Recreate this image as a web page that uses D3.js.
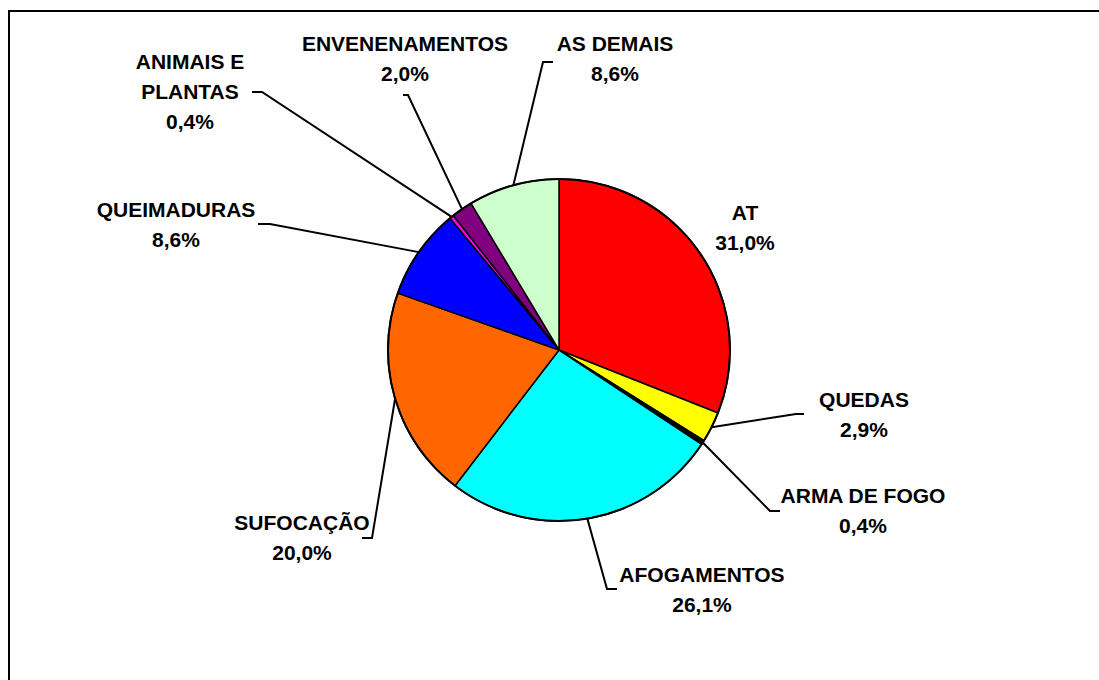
<!DOCTYPE html>
<html>
<head>
<meta charset="utf-8">
<style>
    body { margin: 0; background: #fff; }
    text { font-family: "Liberation Sans", Arial, sans-serif; font-weight: bold; font-size: 21px; fill: #000; }
</style>
</head>
<body>
    <div class="graph"></div>

    <script src="https://cdn.jsdelivr.net/npm/d3@7"></script>
    <script>
        // data, clockwise from 12 o'clock
        var categories = ['AT', 'QUEDAS', 'ARMA DE FOGO', 'AFOGAMENTOS', 'SUFOCAÇÃO',
            'QUEIMADURAS', 'ANIMAIS E|PLANTAS', 'ENVENENAMENTOS', 'AS DEMAIS']
        var values = [31.0, 2.9, 0.4, 26.1, 20.0, 8.6, 0.4, 2.0, 8.6]
        var colors = ['#ff0000', '#ffff00', '#000000', '#00ffff', '#ff6600',
            '#0000ff', '#ff00ff', '#800080', '#ccffcc']

        // label layout: centre x, baseline of first line, leader elbow and end (null = no leader)
        var labelPos = [
            [745, 220], [864, 407], [863, 503], [702, 582], [302, 530],
            [176, 217], [190, 69], [405, 51], [615, 51]
        ]
        var leaders = [
            null,
            [[796, 414], [804, 414]],
            [[770, 511], [780, 511]],
            [[607, 589], [617, 589]],
            [[372, 538], [362, 538]],
            [[270, 224], [258, 224]],
            [[262, 92], [252, 92]],
            [[408, 95], [403, 95]],
            [[543, 62], [553, 62]]
        ]

        var width = 1099,
            height = 680,
            cx = 559,
            cy = 350,
            radius = 171,
            lineH = 30

        var svg = d3.select('.graph').append('svg')
            .attr('width', width)
            .attr('height', height)

        // frame
        svg.append('rect')
            .attr('x', 9).attr('y', 11)
            .attr('width', 1100).attr('height', 700)
            .style('fill', 'none')
            .style('stroke', '#000')
            .style('stroke-width', 2)

        var pie = d3.pie().sort(null).value(function (d) { return d })
        var arcs = pie(values)

        var arc = d3.arc().innerRadius(0).outerRadius(radius)

        var g = svg.append('g')
            .attr('transform', 'translate(' + cx + ',' + cy + ')')

        g.selectAll('path.slice')
            .data(arcs)
            .enter().append('path')
            .attr('class', 'slice')
            .attr('d', arc)
            .style('fill', function (d, i) { return colors[i] })
            .style('stroke', '#000')
            .style('stroke-width', 1.5)
            .style('stroke-linejoin', 'round')

        g.append('circle')
            .attr('r', radius)
            .style('fill', 'none')
            .style('stroke', '#000')
            .style('stroke-width', 2)

        // leader lines from the mid angle on the rim
        var line = d3.line()
        arcs.forEach(function (d, i) {
            if (!leaders[i]) return
            var a = (d.startAngle + d.endAngle) / 2
            var p0 = [cx + radius * Math.sin(a), cy - radius * Math.cos(a)]
            svg.append('path')
                .attr('d', line([p0, leaders[i][0], leaders[i][1]]))
                .style('fill', 'none')
                .style('stroke', '#000')
                .style('stroke-width', 2)
        })

        // labels
        arcs.forEach(function (d, i) {
            var lines = categories[i].split('|')
            lines.push(values[i].toFixed(1).replace('.', ',') + '%')
            var t = svg.append('text')
                .attr('text-anchor', 'middle')
            lines.forEach(function (s, k) {
                t.append('tspan')
                    .attr('x', labelPos[i][0])
                    .attr('y', labelPos[i][1] + k * lineH)
                    .text(s)
            })
        })
    </script>
</body>
</html>
